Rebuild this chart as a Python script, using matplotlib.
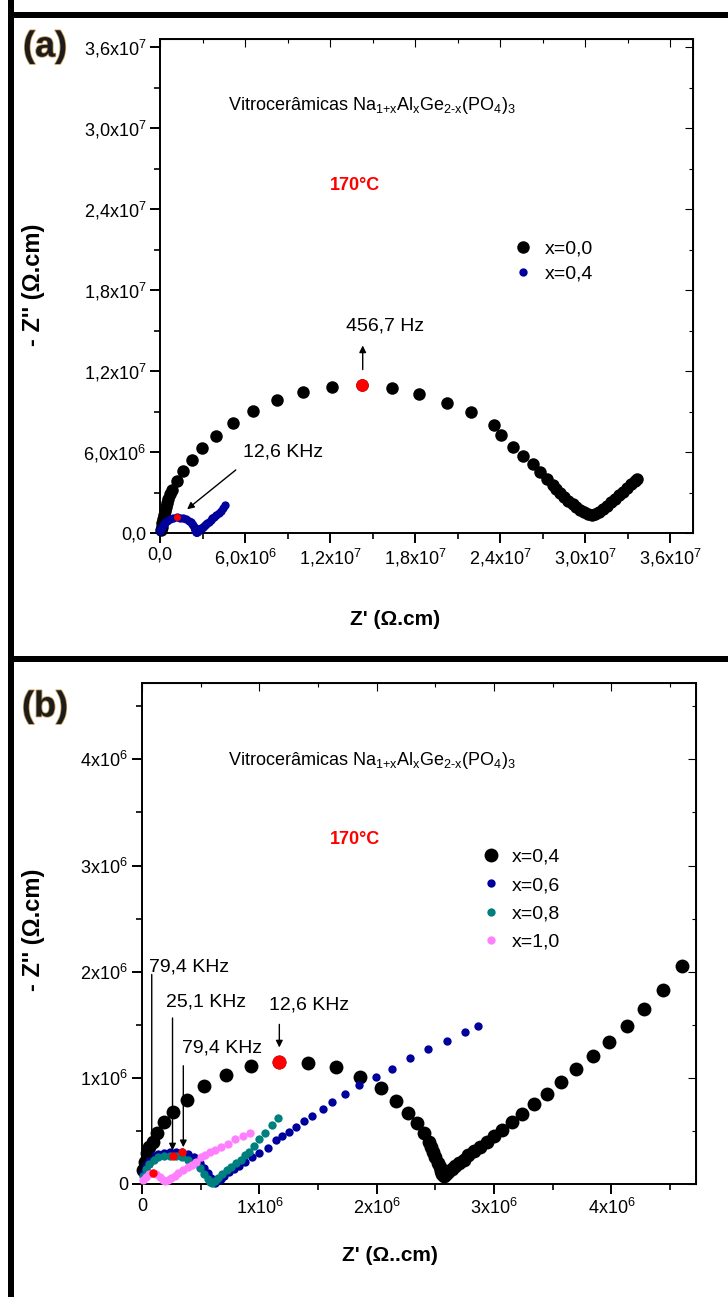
import matplotlib
matplotlib.use("Agg")
import matplotlib.pyplot as plt
from matplotlib.patches import Rectangle
from matplotlib import patheffects as pe
import numpy as np

plt.rcParams['font.family'] = ['Liberation Sans', 'DejaVu Sans']
plt.rcParams['mathtext.fontset'] = 'custom'
plt.rcParams['mathtext.rm'] = 'Liberation Sans'
plt.rcParams['mathtext.it'] = 'Liberation Sans'
plt.rcParams['mathtext.bf'] = 'Liberation Sans:bold'

M = 1e6
# ---------------- Panel (a) data (units of 1e6 ohm.cm) ----------------
a_x00_re = [0.07, 0.14, 0.14, 0.21, 0.28, 0.35, 0.42, 0.49, 0.56, 0.70, 0.85, 1.20, 1.62, 2.25,
            2.96, 3.95, 5.14, 6.55, 8.24, 10.07, 12.12, 14.23, 16.34, 18.25, 20.22, 21.91, 23.53,
            24.09, 24.87, 25.64, 26.28, 26.84, 27.33, 27.69, 27.97, 28.25, 28.53, 28.81, 29.10,
            29.38, 29.66, 29.94, 30.22, 30.50, 30.72, 31.00, 31.28, 31.56, 31.84, 32.13, 32.41,
            32.69, 32.97, 33.25, 33.53, 33.67]
a_x00_im = [0.22, 0.44, 0.74, 1.04, 1.33, 1.63, 1.93, 2.22, 2.52, 2.89, 3.19, 3.85, 4.59, 5.41,
            6.30, 7.19, 8.15, 9.04, 9.85, 10.44, 10.81, 10.96, 10.74, 10.30, 9.63, 8.96, 8.00,
            7.26, 6.37, 5.70, 5.11, 4.52, 4.00, 3.56, 3.26, 2.96, 2.67, 2.37, 2.15,
            1.93, 1.70, 1.56, 1.41, 1.37, 1.41, 1.56, 1.78, 2.00, 2.30, 2.52, 2.81,
            3.04, 3.33, 3.63, 3.85, 4.00]
a_peak_re = [14.23]
a_peak_im = [10.96]

# ---------------- Panel (b) data (units of 1e6 ohm.cm) ----------------
b_x04_re = [0.011, 0.026, 0.040, 0.062, 0.091, 0.131, 0.188, 0.267, 0.381, 0.529, 0.713, 0.927,
            1.168, 1.412, 1.651, 1.858, 2.035, 2.163, 2.270, 2.347, 2.404, 2.441, 2.46, 2.48,
            2.50, 2.52, 2.535, 2.55, 2.56, 2.57, 2.59, 2.61, 2.64, 2.67, 2.70, 2.74, 2.78, 2.83,
            2.88, 2.94, 3.00, 3.07, 3.15, 3.24, 3.34, 3.45, 3.57, 3.70, 3.84, 3.98, 4.13, 4.28,
            4.44, 4.60]
b_x04_im = [0.13, 0.21, 0.29, 0.35, 0.40, 0.48, 0.58, 0.68, 0.79, 0.92, 1.03, 1.11,
            1.15, 1.14, 1.10, 1.01, 0.90, 0.78, 0.67, 0.57, 0.48, 0.40, 0.35, 0.30,
            0.25, 0.20, 0.16, 0.12, 0.09, 0.08, 0.09, 0.11, 0.14, 0.17, 0.20, 0.23, 0.27, 0.31,
            0.35, 0.40, 0.45, 0.51, 0.58, 0.66, 0.75, 0.85, 0.96, 1.08, 1.21, 1.34, 1.49, 1.65,
            1.83, 2.05]

b_x06_re = [0.01, 0.03, 0.06, 0.10, 0.14, 0.19, 0.24, 0.29, 0.34, 0.39, 0.44, 0.49, 0.53, 0.56,
            0.59, 0.61, 0.62, 0.64, 0.67, 0.70, 0.74, 0.78, 0.83, 0.88, 0.94, 1.00, 1.07, 1.14,
            1.19, 1.25, 1.31, 1.38, 1.45, 1.54, 1.62, 1.73, 1.85, 1.99, 2.13, 2.28, 2.44, 2.60,
            2.75, 2.86]
b_x06_im = [0.10, 0.17, 0.22, 0.26, 0.28, 0.29, 0.30, 0.30, 0.30, 0.28, 0.25, 0.20, 0.15, 0.10,
            0.06, 0.03, 0.01, 0.03, 0.05, 0.08, 0.11, 0.14, 0.17, 0.21, 0.25, 0.29, 0.34, 0.41,
            0.45, 0.49, 0.54, 0.59, 0.64, 0.71, 0.77, 0.85, 0.93, 1.01, 1.08, 1.19, 1.27, 1.35,
            1.43, 1.49]

b_x08_re = [0.01, 0.03, 0.06, 0.10, 0.14, 0.19, 0.24, 0.29, 0.34, 0.39, 0.44, 0.49, 0.53, 0.56,
            0.58, 0.60, 0.62, 0.65, 0.68, 0.72, 0.76, 0.80, 0.84, 0.88, 0.91, 0.95, 1.00, 1.05,
            1.11, 1.16]
b_x08_im = [0.08, 0.14, 0.19, 0.23, 0.25, 0.26, 0.26, 0.26, 0.25, 0.23, 0.20, 0.15, 0.09, 0.05,
            0.02, 0.01, 0.03, 0.06, 0.09, 0.13, 0.16, 0.20, 0.23, 0.27, 0.30, 0.36, 0.42, 0.48,
            0.56, 0.62]

b_x10_re = [0.01, 0.03, 0.06, 0.09, 0.12, 0.15, 0.18, 0.20, 0.22, 0.25, 0.28, 0.31, 0.35, 0.39,
            0.43, 0.46, 0.50, 0.54, 0.58, 0.62, 0.67, 0.73, 0.79, 0.86, 0.92]
b_x10_im = [0.04, 0.07, 0.09, 0.10, 0.09, 0.07, 0.04, 0.03, 0.04, 0.06, 0.08, 0.10, 0.13, 0.16,
            0.18, 0.21, 0.25, 0.27, 0.30, 0.32, 0.35, 0.38, 0.42, 0.45, 0.48]

b_red_re = [1.168, 0.09, 0.26, 0.34]
b_red_im = [1.15, 0.10, 0.26, 0.30]

a_xticks = [0, 6, 12, 18, 24, 30, 36]
a_xticklabels = ['0,0', '6,0x10$^{6}$', '1,2x10$^{7}$', '1,8x10$^{7}$', '2,4x10$^{7}$',
                 '3,0x10$^{7}$', '3,6x10$^{7}$']
a_yticks = a_xticks
a_yticklabels = a_xticklabels
b_xticks = [0, 1, 2, 3, 4]
b_xticklabels = ['0', '1x10$^{6}$', '2x10$^{6}$', '3x10$^{6}$', '4x10$^{6}$']
b_yticks = [0, 1, 2, 3, 4]
b_yticklabels = b_xticklabels

TITLE = r'Vitrocerâmicas Na$_{\text{1+x}}$Al$_{\text{x}}$Ge$_{\text{2-x}}$(PO$_{\text{4}}$)$_{\text{3}}$'

BLUE = '#00009c'
TEAL = '#007f7f'
PINK = '#ff80ff'

W, H = 728, 1297
fig = plt.figure(figsize=(W / 100, H / 100), dpi=100)


def px_rect(x0, y0, x1, y1):
    return [x0 / W, 1 - y1 / H, (x1 - x0) / W, (y1 - y0) / H]


# Frame lines
for (x0, y0, x1, y1) in [(8, 0, 14, H), (8, 12, W, 18), (8, 656, W, 662)]:
    fig.add_artist(Rectangle((x0 / W, 1 - y1 / H), (x1 - x0) / W, (y1 - y0) / H,
                             transform=fig.transFigure, color='black', lw=0))

axA = fig.add_axes(px_rect(160, 39, 693, 533))
axB = fig.add_axes(px_rect(142, 683, 696, 1184))


def style_axes(ax, xt, xtl, yt, ytl, xmin_step, ymin_step, xlim, ylim):
    ax.set_xlim(*xlim)
    ax.set_ylim(*ylim)
    ax.set_xticks([v * M for v in xt])
    ax.set_xticklabels(xtl)
    ax.set_yticks([v * M for v in yt])
    ax.set_yticklabels(ytl)
    ax.set_xticks(np.arange(0, xlim[1], xmin_step), minor=True)
    ax.set_yticks(np.arange(0, ylim[1], ymin_step), minor=True)
    for s in ax.spines.values():
        s.set_linewidth(1.4)
    ax.tick_params(which='major', direction='out', length=7, width=1.4, labelsize=13, pad=3)
    ax.tick_params(which='minor', direction='out', length=4, width=1.2)
    sx = ax.secondary_xaxis('top')
    sx.set_xticks([v * M for v in xt])
    sx.set_xticks(np.arange(0, xlim[1], xmin_step), minor=True)
    sx.tick_params(which='both', direction='in', labeltop=False, width=0.8)
    sx.tick_params(which='major', length=6)
    sx.tick_params(which='minor', length=3)
    sy = ax.secondary_yaxis('right')
    sy.set_yticks([v * M for v in yt])
    sy.set_yticks(np.arange(0, ylim[1], ymin_step), minor=True)
    sy.tick_params(which='both', direction='in', labelright=False, width=0.8)
    sy.tick_params(which='major', length=6)
    sy.tick_params(which='minor', length=3)


style_axes(axA, a_xticks, a_xticklabels, a_yticks, a_yticklabels, 3e6, 3e6,
           (0, 37.6e6), (0, 36.6e6))
style_axes(axB, b_xticks, b_xticklabels, b_yticks, b_yticklabels, 0.5e6, 0.5e6,
           (0, 4.72e6), (0, 4.72e6))

# ---- panel (a) data ----
axA.plot(np.array(a_x00_re) * M, np.array(a_x00_im) * M, 'o', color='black', ms=9,
         mec='none', label='x=0,0', clip_on=False, zorder=3)
axA.plot(np.array(b_x04_re) * M, np.array(b_x04_im) * M, 'o', color=BLUE, ms=6,
         mec='none', label='x=0,4', clip_on=False, zorder=4)
axA.plot(np.array(a_peak_re) * M, np.array(a_peak_im) * M, 'o', color='red', ms=9,
         mec='none', zorder=5)
axA.plot([b_red_re[0] * M], [b_red_im[0] * M], 'o', color='red', ms=5, mec='none', zorder=5)

axA.text(0.128, 0.866, TITLE, transform=axA.transAxes, fontsize=13, ha='left', va='center')
axA.text(0.366, 0.704, '170°C', transform=axA.transAxes, fontsize=13, color='red',
         fontweight='bold', ha='center', va='center')
axA.annotate('', xy=(14.3e6, 14.1e6), xytext=(14.3e6, 11.9e6),
             arrowprops=dict(arrowstyle='-|>', color='black', lw=1.0, mutation_scale=10))
axA.text(15.9e6, 15.3e6, '456,7 Hz', fontsize=14, ha='center', va='center')
axA.annotate('', xy=(1.76e6, 1.63e6), xytext=(5.5e6, 4.8e6),
             arrowprops=dict(arrowstyle='-|>', color='black', lw=1.0, mutation_scale=10))
axA.text(8.7e6, 6.0e6, '12,6 KHz', fontsize=14, ha='center', va='center')

axA.legend(loc='upper left', bbox_to_anchor=(0.63, 0.628), frameon=False, fontsize=14,
           handletextpad=0.6, labelspacing=0.38, markerscale=1.0, handlelength=1.0)
axA.set_xlabel("Z' (Ω.cm)", fontsize=15, fontweight='bold')
axA.xaxis.set_label_coords(0.441, -0.155)
axA.set_ylabel("- Z'' (Ω.cm)", fontsize=17, fontweight='bold')
axA.yaxis.set_label_coords(-0.216, 0.502)

# ---- panel (b) data ----
axB.plot(np.array(b_x04_re) * M, np.array(b_x04_im) * M, 'o', color='black', ms=10,
         mec='none', label='x=0,4', clip_on=False, zorder=2)
axB.plot(np.array(b_x06_re) * M, np.array(b_x06_im) * M, 'o', color=BLUE, ms=6,
         mec='none', label='x=0,6', clip_on=False, zorder=3)
axB.plot(np.array(b_x08_re) * M, np.array(b_x08_im) * M, 'o', color=TEAL, ms=6,
         mec='none', label='x=0,8', clip_on=False, zorder=4)
axB.plot(np.array(b_x10_re) * M, np.array(b_x10_im) * M, 'o', color=PINK, ms=6,
         mec='none', label='x=1,0', clip_on=False, zorder=5)
axB.plot(np.array(b_red_re[:1]) * M, np.array(b_red_im[:1]) * M, 'o', color='red', ms=10,
         mec='none', zorder=6)
axB.plot(np.array(b_red_re[1:]) * M, np.array(b_red_im[1:]) * M, 'o', color='red', ms=6,
         mec='none', zorder=6)

axB.text(0.155, 0.846, TITLE, transform=axB.transAxes, fontsize=13, ha='left', va='center')
axB.text(0.384, 0.687, '170°C', transform=axB.transAxes, fontsize=13, color='red',
         fontweight='bold', ha='center', va='center')

ann_b = [
    ('79,4 KHz', 0.40, 2.04, 0.083, 2.00, 0.12),
    ('25,1 KHz', 0.55, 1.71, 0.26, 1.59, 0.29),
    ('79,4 KHz', 0.68, 1.28, 0.352, 1.14, 0.32),
    ('12,6 KHz', 1.42, 1.69, 1.17, 1.53, 1.26),
]
for lab, tx, ty, axx, y0, y1 in ann_b:
    axB.text(tx * M, ty * M, lab, fontsize=14, ha='center', va='center')
    axB.annotate('', xy=(axx * M, y1 * M), xytext=(axx * M, y0 * M),
                 arrowprops=dict(arrowstyle='-|>', color='black', lw=1.0, mutation_scale=10))

axB.legend(loc='upper left', bbox_to_anchor=(0.58, 0.705), frameon=False, fontsize=14,
           handletextpad=0.6, labelspacing=0.55, handlelength=1.0)
axB.set_xlabel("Z' (Ω..cm)", fontsize=15, fontweight='bold')
axB.xaxis.set_label_coords(0.448, -0.124)
axB.set_ylabel("- Z'' (Ω.cm)", fontsize=17, fontweight='bold')
axB.yaxis.set_label_coords(-0.175, 0.507)

# Panel letters
for lab, (px, py) in [('(a)', (45, 47)), ('(b)', (45, 707))]:
    fig.text(px / W, 1 - py / H, lab, fontsize=26, fontweight='bold', color='#1c1c1c',
             ha='center', va='center', family=['Liberation Sans', 'DejaVu Sans'],
             path_effects=[pe.withStroke(linewidth=1.2, foreground='#c89a55')])

fig.savefig('out.png', dpi=100)
